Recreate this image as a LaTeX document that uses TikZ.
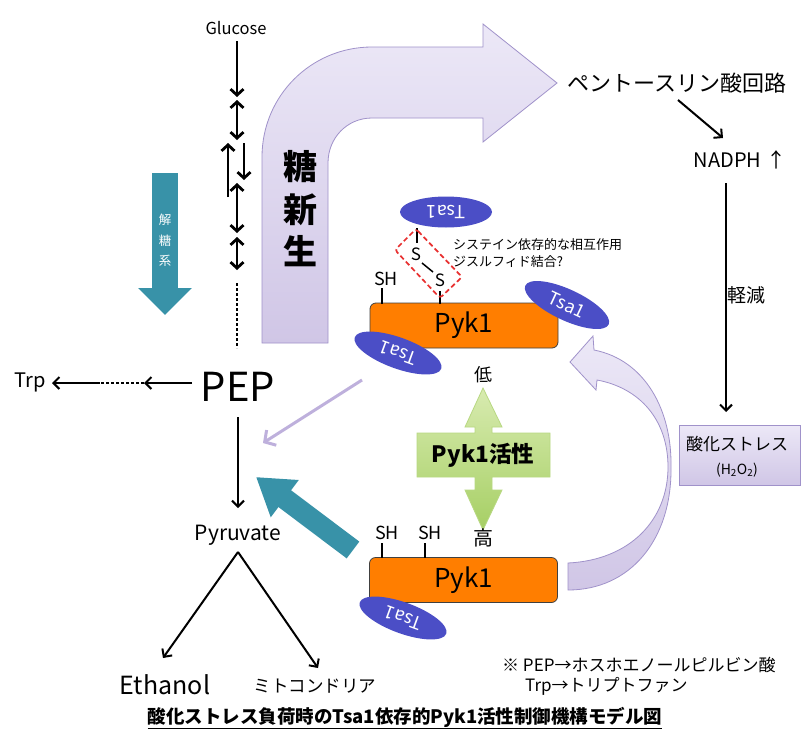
\documentclass[tikz,border=0pt]{standalone}
\usepackage{fontspec}
\setmainfont{Noto Sans CJK JP}
\usetikzlibrary{arrows.meta,shapes.geometric}
\newcommand\fsz[1]{\fontsize{#1}{#1}\selectfont}
\definecolor{tsacol}{RGB}{75,78,198}
\definecolor{pykcol}{RGB}{255,126,0}
\definecolor{tealc}{RGB}{56,146,168}
\definecolor{lavline}{RGB}{190,176,220}
\definecolor{lavtop}{RGB}{236,232,247}
\definecolor{lavbot}{RGB}{208,198,230}
\definecolor{lavdraw}{RGB}{160,146,202}
\definecolor{grntop}{RGB}{216,235,176}
\definecolor{grnbot}{RGB}{166,207,100}
\definecolor{grndraw}{RGB}{184,216,130}
\definecolor{dashred}{RGB}{232,48,48}
\tikzset{
  blk/.style={line width=2.8pt, draw=black},
  sarr/.style={blk, -{Straight Barb[length=6pt,width=13pt]}},
  darr/.style={blk, {Straight Barb[length=6pt,width=13pt]}-{Straight Barb[length=6pt,width=13pt]}},
  thinarr/.style={line width=2pt, draw=black, -{Straight Barb[length=6pt,width=12pt]}},
  dotline/.style={line width=2.8pt, dash pattern=on 2.8pt off 2.2pt},
  tsanode/.style={ellipse, fill=tsacol, minimum width=92pt, minimum height=31pt, inner sep=0pt, text=white, font=\fsz{18}},
  pykbox/.style={draw=black!75, line width=0.8pt, fill=pykcol, rounded corners=6pt, minimum width=188pt, minimum height=45pt, inner sep=0pt, font=\fsz{26}},
  lavshape/.style={draw=lavdraw, line width=0.8pt, top color=lavtop, bottom color=lavbot},
  tick/.style={line width=1.5pt, draw=black},
}
\begin{document}
\begin{tikzpicture}[x=1pt,y=-1pt, every node/.style={inner sep=0pt}]
\fill[white] (0,0) rectangle (803,731);
\useasboundingbox (0,0) rectangle (803,731);

% big bent arrow (gluconeogenesis)
\path[lavshape] (262,343) -- (262,157) .. controls (262,96) and (311,47) .. (372,47) -- (483,47) -- (483,24) -- (557,83) -- (483,142) -- (483,118) -- (372,118) .. controls (347,118) and (328,138) .. (328,163) -- (328,343) -- cycle;
\node[font={\bfseries\fsz{34}}] (tou) at (300,167) {糖};
\node[font={\bfseries\fsz{34}}] (shin) at (300,210) {新};
\node[font={\bfseries\fsz{34}}] (sei) at (300,251) {生};

% glycolysis teal arrow
\coordinate (gly0) at (165,173);
\coordinate (gly1) at (165,315);
\draw[tealc, line width=26pt, -{Triangle[length=27pt,width=52pt]}] (gly0) -- (gly1);
\node[text=white, font=\fsz{12.5}] (k1) at (165,220) {解};
\node[text=white, font=\fsz{12.5}] (k2) at (165,241) {糖};
\node[text=white, font=\fsz{12.5}] (k3) at (165,261) {系};

% glucose chain
\node[font=\fsz{16.5}] (glc) at (236,28) {Glucose};
\coordinate (a0) at (237,41);  \coordinate (a1) at (237,97);
\coordinate (b0) at (237,100); \coordinate (b1) at (237,140);
\coordinate (c0) at (228,143); \coordinate (c1) at (228,197);
\coordinate (d0) at (244,143); \coordinate (d1) at (244,180);
\coordinate (e0) at (237,183); \coordinate (e1) at (237,233);
\coordinate (f0) at (237,237); \coordinate (f1) at (237,270);
\coordinate (h0) at (237,283); \coordinate (h1) at (237,348);
\draw[sarr] (a0) -- (a1);
\draw[darr] (b0) -- (b1);
\draw[sarr] (c1) -- (c0);
\draw[sarr] (d0) -- (d1);
\draw[darr] (e0) -- (e1);
\draw[darr] (f0) -- (f1);
\draw[dotline] (h0) -- (h1);

% PEP, Trp
\node[font=\fsz{40}] (pep) at (238,387) {PEP};
\node[font=\fsz{20}] (trp) at (30,382) {Trp};
\coordinate (t1) at (192,383); \coordinate (t2) at (144,383); \coordinate (t3) at (100,383); \coordinate (t4) at (52,383);
\draw[thinarr] (t1) -- (t2);
\draw[dotline, line width=2.4pt] (t2) -- (t3);
\draw[thinarr] (t3) -- (t4);

% PEP -> Pyruvate
\node[font=\fsz{21}] (pyr) at (238,535) {Pyruvate};
\coordinate (q0) at (238,417); \coordinate (q1) at (238,508);
\draw[thinarr] (q0) -- (q1);
\coordinate (py0) at (238,552);
\coordinate (ethT) at (163,658);
\coordinate (mitT) at (318,668);
\draw[thinarr] (py0) -- (ethT);
\draw[thinarr] (py0) -- (mitT);
\node[font=\fsz{25}] (eth) at (165,685) {Ethanol};
\node[font=\fsz{17.5}] (mito) at (315,686) {ミトコンドリア};

% pentose phosphate, NADPH, stress
\node[font=\fsz{22}] (ppp) at (677,83) {ペントースリン酸回路};
\node[font=\fsz{20}] (nadph) at (740,160) {NADPH\hspace{5pt}↑};
\coordinate (p1) at (678,100); \coordinate (p2) at (723,138);
\draw[thinarr] (p1) -- (p2);
\coordinate (n1) at (726,183); \coordinate (n2) at (726,412);
\draw[thinarr] (n1) -- (n2);
\node[font=\fsz{19}] (kei) at (746,295) {軽減};
\node[lavshape, minimum width=121pt, minimum height=60pt] (stress) at (739.5,455) {};
\node[font=\fsz{17}] (stx) at (737,444) {酸化ストレス};
\node[font=\fsz{14}] (h2o2) at (737,470) {(H\textsubscript{2}O\textsubscript{2})};

% curved feedback arrow
\path[lavshape] (568,563) .. controls (630,560) and (668,520) .. (668,467) .. controls (668,420) and (640,388) .. (597,380) -- (596,390) -- (570,362) -- (593,336) -- (594,350) .. controls (645,360) and (672,410) .. (671,467) .. controls (672,540) and (630,590) .. (568,590) -- cycle;

% light purple thin arrow
\coordinate (lv0) at (362,380); \coordinate (lv1) at (263,443);
\draw[lavline, line width=3pt, -{Straight Barb[length=8pt,width=18pt]}] (lv0) -- (lv1);

% teal thick arrow
\coordinate (tl0) at (353,550); \coordinate (tl1) at (256,477);
\draw[tealc, line width=21pt, -{Triangle[length=36pt,width=44pt]}] (tl0) -- (tl1);

% upper Pyk1 complex
\node[pykbox] (pykA) at (464,325.5) {Pyk1};
\node[tsanode, rotate=180] (tsaT) at (446,212) {Tsa1};
\node[tsanode, rotate=-25] (tsaR) at (567,305) {Tsa1};
\node[tsanode, rotate=160] (tsaL) at (398,353) {Tsa1};
\node[font=\fsz{18}] (sh1) at (386,279) {SH};
\coordinate (sh1a) at (382,288); \coordinate (sh1b) at (382,303.5);
\draw[tick] (sh1a) -- (sh1b);
\node[font=\fsz{17}] (s1) at (416,254) {S};
\node[font=\fsz{17}] (s2) at (440,280) {S};
\coordinate (st0) at (417,228); \coordinate (st1) at (417,243);
\draw[tick] (st0) -- (st1);
\coordinate (sb0) at (440,291); \coordinate (sb1) at (440,303.5);
\draw[tick] (sb0) -- (sb1);
\coordinate (ss0) at (422,263); \coordinate (ss1) at (433,272);
\draw[tick] (ss0) -- (ss1);
\draw[dashred, line width=1.7pt, dash pattern=on 5pt off 3pt, rounded corners=3pt] (416,229) -- (462,277) -- (440,298) -- (395,250) -- cycle;
\node[anchor=west, font=\fsz{13}] (cys1) at (453,245) {システイン依存的な相互作用};
\node[anchor=west, font=\fsz{13}] (cys2) at (453,262) {ジスルフィド結合?};

% activity double arrow
\path[draw=grndraw, line width=0.8pt, top color=grntop, bottom color=grnbot]
  (483,388) -- (502,427) -- (492,427) -- (492,433) -- (550,433) -- (550,477) -- (492,477) -- (492,490) -- (502,490) -- (483,530) -- (465,490) -- (475,490) -- (475,477) -- (417,477) -- (417,433) -- (475,433) -- (475,427) -- (465,427) -- cycle;
\node[font={\bfseries\fsz{22.5}}] (act) at (483,455) {Pyk1活性};
\node[font=\fsz{18}] (low) at (483,375) {低};
\node[font=\fsz{20}] (high) at (483,538) {高};

% lower Pyk1 complex
\node[pykbox] (pykB) at (463.5,580) {Pyk1};
\node[tsanode, rotate=160] (tsaB) at (403,618) {Tsa1};
\node[font=\fsz{18}] (sh2) at (387,533) {SH};
\node[font=\fsz{18}] (sh3) at (430,533) {SH};
\coordinate (sh2a) at (382,543); \coordinate (sh2b) at (382,557.5);
\coordinate (sh3a) at (425,543); \coordinate (sh3b) at (425,557.5);
\draw[tick] (sh2a) -- (sh2b);
\draw[tick] (sh3a) -- (sh3b);

% footnote and caption
\node[anchor=west, font=\fsz{17}] (fn1) at (502,665) {※ PEP→ホスホエノールピルビン酸};
\node[anchor=west, font=\fsz{17}] (fn2) at (525,686) {Trp→トリプトファン};
\node[font={\bfseries\fsz{18.5}}] (cap) at (405,718) {\underline{酸化ストレス負荷時のTsa1依存的Pyk1活性制御機構モデル図}};
\end{tikzpicture}
\end{document}
